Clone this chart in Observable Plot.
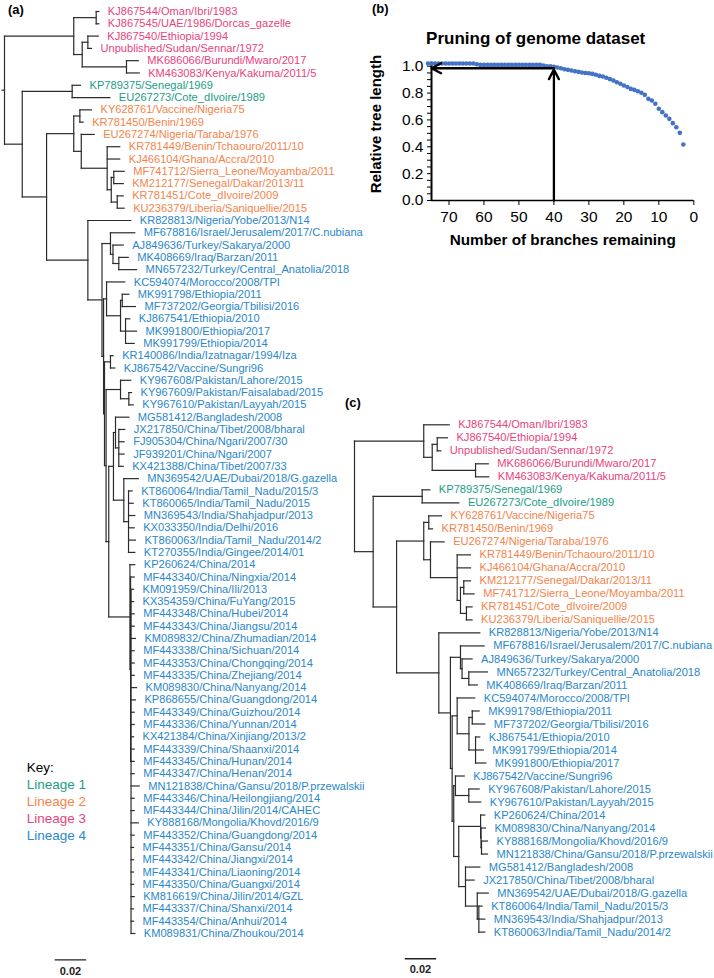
<!DOCTYPE html>
<html><head><meta charset="utf-8">
<script src="https://cdn.jsdelivr.net/npm/d3@7"></script>
<script src="https://cdn.jsdelivr.net/npm/@observablehq/plot@0.6"></script>
<style>
body{margin:0;background:#fff;}
#fig{position:relative;width:714px;height:978px;background:#fff;font-family:"Liberation Sans",Arial,sans-serif;overflow:hidden;}
#fig svg{position:absolute;left:0;top:0;}
.lab{position:absolute;white-space:nowrap;line-height:1;color:#000;}
</style></head><body><div id="fig"></div>
<script>
// ---------- shared ----------
const lineageNames = ["Lineage 1","Lineage 2","Lineage 3","Lineage 4"];
const lineageColors = ["#1a9e86","#f4844a","#e8437e","#2a87c9"];
const scaleBarLabel = "0.02";
const scaleBarLength = 20;           // 0.02 substitutions/site (depth units are 0.001)

// ---------- tree (a): full genome dataset ----------
const tipNamesA = [
"KJ867544/Oman/Ibri/1983","KJ867545/UAE/1986/Dorcas_gazelle","KJ867540/Ethiopia/1994","Unpublished/Sudan/Sennar/1972",
"MK686066/Burundi/Mwaro/2017","KM463083/Kenya/Kakuma/2011/5","KP789375/Senegal/1969","EU267273/Cote_dIvoire/1989",
"KY628761/Vaccine/Nigeria75","KR781450/Benin/1969","EU267274/Nigeria/Taraba/1976","KR781449/Benin/Tchaouro/2011/10",
"KJ466104/Ghana/Accra/2010","MF741712/Sierra_Leone/Moyamba/2011","KM212177/Senegal/Dakar/2013/11","KR781451/Cote_dIvoire/2009",
"KU236379/Liberia/Saniquellie/2015","KR828813/Nigeria/Yobe/2013/N14","MF678816/Israel/Jerusalem/2017/C.nubiana","AJ849636/Turkey/Sakarya/2000",
"MK408669/Iraq/Barzan/2011","MN657232/Turkey/Central_Anatolia/2018","KC594074/Morocco/2008/TPI","MK991798/Ethiopia/2011",
"MF737202/Georgia/Tbilisi/2016","KJ867541/Ethiopia/2010","MK991800/Ethiopia/2017","MK991799/Ethiopia/2014",
"KR140086/India/Izatnagar/1994/Iza","KJ867542/Vaccine/Sungri96","KY967608/Pakistan/Lahore/2015","KY967609/Pakistan/Faisalabad/2015",
"KY967610/Pakistan/Layyah/2015","MG581412/Bangladesh/2008","JX217850/China/Tibet/2008/bharal","FJ905304/China/Ngari/2007/30",
"JF939201/China/Ngari/2007","KX421388/China/Tibet/2007/33","MN369542/UAE/Dubai/2018/G.gazella","KT860064/India/Tamil_Nadu/2015/3",
"KT860065/India/Tamil_Nadu/2015","MN369543/India/Shahjadpur/2013","KX033350/India/Delhi/2016","KT860063/India/Tamil_Nadu/2014/2",
"KT270355/India/Gingee/2014/01","KP260624/China/2014","MF443340/China/Ningxia/2014","KM091959/China/Ili/2013",
"KX354359/China/FuYang/2015","MF443348/China/Hubei/2014","MF443343/China/Jiangsu/2014","KM089832/China/Zhumadian/2014",
"MF443338/China/Sichuan/2014","MF443353/China/Chongqing/2014","MF443335/China/Zhejiang/2014","KM089830/China/Nanyang/2014",
"KP868655/China/Guangdong/2014","MF443349/China/Guizhou/2014","MF443336/China/Yunnan/2014","KX421384/China/Xinjiang/2013/2",
"MF443339/China/Shaanxi/2014","MF443345/China/Hunan/2014","MF443347/China/Henan/2014","MN121838/China/Gansu/2018/P.przewalskii",
"MF443346/China/Heilongjiang/2014","MF443344/China/Jilin/2014/CAHEC","KY888168/Mongolia/Khovd/2016/9","MF443352/China/Guangdong/2014",
"MF443351/China/Gansu/2014","MF443342/China/Jiangxi/2014","MF443341/China/Liaoning/2014","MF443350/China/Guangxi/2014",
"KM816619/China/Jilin/2014/GZL","MF443337/China/Shanxi/2014","MF443354/China/Anhui/2014","KM089831/China/Zhoukou/2014"];
const tipLineageA = [3,3,3,3,3,3,1,1,2,2,2,2,2,2,2,2,2,
4,4,4,4,4,4,4,4,4,4,4,4,4,4,4,4,4,4,4,4,4,4,4,4,4,4,4,4,4,4,4,4,4,4,4,4,4,4,4,4,4,4,4,4,4,4,4,4,4,4,4,4,4,4,4,4,4,4,4,4];
const tipParentA = ["P1","P1","P3","P3","P4","P4","L1","L1","L2a","L2a","L2b","L2c","L2c","L2f","L2f","L2g","L2g",
"L4","T1","T2","T3","T3","G1","G3","G3","G4","G4","G4","N29","N29","PK","PKb","PKb","CT","CT2","CT2","CT2","CT2",
"IN2","IN3","IN3","IN3","IN3","IN3","IN3","C","C2",
"C3","C3","C3","C3","C3","C3","C3","C3","C3","C3","C3","C3","C3","C3","C3","C3","C3","C3","C3","C3","C3","C3","C3","C3","C3","C3","C3","C3","C3"];
// tip depth, in units of 0.001 substitutions/site
const tipDepthA = [60.1,60.1,59.7,55.4,85.2,85.8,48.4,67.1,55.4,50.1,57.1,73.4,73.4,76.2,75.6,75.6,76.2,
80.4,83.0,75.6,78.8,84.1,76.6,79.2,83.4,79.8,84.1,82.6,69.2,70.3,80.4,80.9,82.0,79.2,76.6,76.2,76.2,75.6,
85.2,81.3,82.0,83.0,82.6,83.4,83.0,83.0,82.6,
82.2,82.2,82.6,82.6,83.4,82.6,82.6,82.6,84.1,83.4,82.6,82.6,82.2,82.6,82.6,82.6,85.8,82.6,82.6,85.2,82.6,82.2,82.2,82.2,82.2,82.6,82.2,82.2,83.0];
const nodeIdsA    = ["R","P","P1","P2","P3","P4","Q","L1","Q2","L2","L2a","L2b","L2c","L2e","L2f","L2g","L4","L4b","T1","T2","T3","L4c","G1","G2","G3","G4","L4d","N29","L4e","PK","PKb","Y","Z","CT","CT2","IN2","IN3","C","C2","C3"];
const nodeParentA = [null,"R","P","P","P2","P2","R","Q","Q","Q2","L2","L2","L2b","L2c","L2e","L2e","Q2","L4","L4b","T1","T2","L4b","L4c","G1","G2","G2","L4c","L4d","L4d","L4e","PK","L4e","Y","Z","CT","Z","IN2","Y","C","C2"];
const nodeDepthA  = [0,44.1,58.4,49.5,53.1,77.7,11.3,43.1,26.8,44.1,48.0,48.9,65.4,68.0,69.6,71.8,53.1,62.1,67.5,69.1,72.8,63.1,65.0,73.9,75.0,77.1,63.7,67.5,64.7,73.9,79.2,66.4,69.4,70.7,72.8,76.0,79.0,79.9,80.3,80.6];

// ---------- tree (c): pruned dataset ----------
const tipNamesC = [
"KJ867544/Oman/Ibri/1983","KJ867540/Ethiopia/1994","Unpublished/Sudan/Sennar/1972","MK686066/Burundi/Mwaro/2017",
"KM463083/Kenya/Kakuma/2011/5","KP789375/Senegal/1969","EU267273/Cote_dIvoire/1989","KY628761/Vaccine/Nigeria75",
"KR781450/Benin/1969","EU267274/Nigeria/Taraba/1976","KR781449/Benin/Tchaouro/2011/10","KJ466104/Ghana/Accra/2010",
"KM212177/Senegal/Dakar/2013/11","MF741712/Sierra_Leone/Moyamba/2011","KR781451/Cote_dIvoire/2009","KU236379/Liberia/Saniquellie/2015",
"KR828813/Nigeria/Yobe/2013/N14","MF678816/Israel/Jerusalem/2017/C.nubiana","AJ849636/Turkey/Sakarya/2000","MN657232/Turkey/Central_Anatolia/2018",
"MK408669/Iraq/Barzan/2011","KC594074/Morocco/2008/TPI","MK991798/Ethiopia/2011","MF737202/Georgia/Tbilisi/2016",
"KJ867541/Ethiopia/2010","MK991799/Ethiopia/2014","MK991800/Ethiopia/2017","KJ867542/Vaccine/Sungri96",
"KY967608/Pakistan/Lahore/2015","KY967610/Pakistan/Layyah/2015","KP260624/China/2014","KM089830/China/Nanyang/2014",
"KY888168/Mongolia/Khovd/2016/9","MN121838/China/Gansu/2018/P.przewalskii","MG581412/Bangladesh/2008","JX217850/China/Tibet/2008/bharal",
"MN369542/UAE/Dubai/2018/G.gazella","KT860064/India/Tamil_Nadu/2015/3","MN369543/India/Shahjadpur/2013","KT860063/India/Tamil_Nadu/2014/2"];
const tipLineageC = [3,3,3,3,3,1,1,2,2,2,2,2,2,2,2,2,4,4,4,4,4,4,4,4,4,4,4,4,4,4,4,4,4,4,4,4,4,4,4,4];
const tipParentC = ["cP","cP3","cP3","cP4","cP4","cL1","cL1","cL2a","cL2a","cL2b","cL2c","cL2c","cL2f","cL2f","cL2g","cL2g",
"cL4","cT1","cT2","cT3","cT3","cG1","cG2a","cG2a","cG3","cG3","cG3","cN","cPK","cPK","cCN","cCN2","cCN3","cCN3","cBD","cBD","cIN","cIN2","cIN2","cIN2"];
const tipDepthC = [60.3,59.2,55.0,85.2,85.5,48.0,66.5,55.4,49.7,57.1,73.9,73.9,73.9,76.2,74.9,74.9,
79.8,82.6,74.9,84.7,78.2,76.6,79.4,83.0,79.8,82.0,83.6,69.9,79.4,80.4,83.0,83.4,84.7,84.7,79.8,76.2,85.2,81.3,83.0,83.0];
const nodeIdsC    = ["cR","cP","cP2","cP3","cP4","cQ","cL1","cQ2","cL2","cL2a","cL2b","cL2c","cL2e","cL2f","cL2g","cL4","cL4b","cT1","cT2","cT3","cL4c","cG1","cG2","cG2a","cG3","cL4d","cN","cPK","cX","cCN","cCN2","cCN3","cBD","cIN","cIN2"];
const nodeParentC = [null,"cR","cP","cP2","cP2","cR","cQ","cQ","cQ2","cL2","cL2","cL2b","cL2c","cL2e","cL2e","cQ2","cL4","cL4b","cT1","cT2","cL4b","cL4c","cG1","cG2","cG2","cL4c","cL4d","cN","cL4d","cX","cCN","cCN2","cX","cBD","cIN"];
const nodeDepthC  = [0,44.1,49.5,52.7,77.1,11.9,43.1,26.8,44.1,47.3,48.4,65.4,67.5,69.6,71.3,53.7,61.1,67.5,68.5,72.8,62.2,65.4,72.9,75.0,77.1,63.2,64.3,72.8,66.4,80.3,80.6,80.9,70.7,78.2,79.2];

// ---------- panel (b): pruning curve ----------
const branchesRemaining = [76,75,74,73,72,71,70,69,68,67,66,65,64,63,62,61,60,59,58,57,56,55,54,53,52,51,50,49,48,47,46,45,44,
43,42,41,40,39,38,37,36,35,34,33,32,31,30,29,28,27,26,25,24,23,22,21,20,19,18,17,16,15,14,13,12,11,10,9,8,7,6,5,4,3];
const relativeTreeLength = [1.02,1.02,1.02,1.02,1.02,1.02,1.02,1.02,1.02,1.02,1.02,1.02,1.02,1.02,1.015,
1.01,1.01,1.01,1.01,1.01,1.01,1.01,1.01,1.01,1.01,1.01,1.01,1.01,1.01,1.01,1.01,1.01,1.01,
1.005,1.0,1.0,0.995,0.99,0.985,0.978,0.973,0.968,0.963,0.958,0.953,0.95,0.948,0.943,0.936,0.928,0.923,0.914,0.904,0.894,0.881,
0.869,0.856,0.845,0.831,0.824,0.814,0.802,0.787,0.757,0.745,0.72,0.683,0.658,0.633,0.608,0.576,0.546,0.504,0.417];
const xTicksB = [70,60,50,40,30,20,10,0];
const xTickLabelsB = ["70","60","50","40","30","20","10","0"];
const yTicksB = [0,0.2,0.4,0.6,0.8,1.0];
const yTickLabelsB = ["0.0","0.2","0.4","0.6","0.8","1.0"];
const yMinorTicksB = [0.05,0.1,0.15,0.25,0.3,0.35,0.45,0.5,0.55,0.65,0.7,0.75,0.85,0.9,0.95];
const arrowFromX = [40, 40], arrowFromY = [0, 0.985];
const arrowToX   = [40, 75], arrowToY   = [0.975, 0.985];

// ---------- helpers ----------
const FONT = "Liberation Sans, Arial, sans-serif";
const fig = document.getElementById("fig");

function buildTree(names, lin, tipPar, tipDep, nodeIds, nodePar, nodeDep) {
  const nodes = new Map();
  nodeIds.forEach((id, i) => nodes.set(id, {id, parent: nodePar[i], depth: nodeDep[i], children: []}));
  const tips = names.map((name, i) => ({name, lineage: lin[i], parent: tipPar[i], depth: tipDep[i], y: i, children: []}));
  tips.forEach(t => nodes.get(t.parent).children.push(t));
  nodeIds.forEach((id, i) => { if (nodePar[i] != null) nodes.get(nodePar[i]).children.push(nodes.get(id)); });
  const yOf = n => {
    if (n.y === undefined) { const ys = n.children.map(yOf); n.y = (d3.min(ys) + d3.max(ys)) / 2; }
    return n.y;
  };
  const root = nodes.get(nodeIds[nodePar.indexOf(null)]);
  yOf(root);
  const segs = [];
  for (const n of [...tips, ...nodes.values()]) {
    if (n.parent != null) { const p = nodes.get(n.parent); segs.push({x1: p.depth, x2: n.depth, y1: n.y, y2: n.y}); }
    if (n.children.length) { const ys = n.children.map(c => c.y); segs.push({x1: n.depth, x2: n.depth, y1: d3.min(ys), y2: d3.max(ys)}); }
  }
  return {tips, segs, root};
}

function treePlot(tree, xRange, yDomain, yRange, barRow, barLabelRow, rootStub) {
  const segs = tree.segs.slice();
  if (rootStub) segs.push({x1: -rootStub, x2: 0, y1: tree.root.y, y2: tree.root.y});
  const bar = [{x1: 32, x2: 32 + scaleBarLength, y: barRow, ly: barLabelRow, label: scaleBarLabel}];
  return Plot.plot({
    width: 714, height: 978, margin: 0,
    style: {background: "transparent", overflow: "visible", fontFamily: FONT},
    x: {domain: [0, 100], range: xRange, axis: null},
    y: {domain: yDomain, range: yRange, axis: null},
    color: {type: "ordinal", domain: [1, 2, 3, 4], range: lineageColors},
    marks: [
      Plot.link(segs, {x1: "x1", y1: "y1", x2: "x2", y2: "y2", stroke: "#2b2b2b", strokeWidth: 1.2, strokeLinecap: "square"}),
      Plot.text(tree.tips, {x: "depth", y: "y", text: "name", dx: 9, textAnchor: "start", fill: "lineage", fontSize: 11.1, fontFamily: FONT}),
      Plot.link(bar, {x1: "x1", x2: "x2", y1: "y", y2: "y", stroke: "#222", strokeWidth: 1.3}),
      Plot.text(bar, {x: d => (d.x1 + d.x2) / 2, y: "ly", text: "label", fontWeight: "bold", fontSize: 11, fontFamily: FONT, fill: "#222"})
    ]
  });
}

function addLabel(text, x, y, css, anchor) {
  const d = document.createElement("div");
  d.className = "lab";
  d.textContent = text;
  d.style.left = x + "px"; d.style.top = y + "px";
  d.style.transform = anchor === "center" ? "translate(-50%,-50%)" : (anchor === "rot" ? "translate(-50%,-50%) rotate(-90deg)" : "translate(0,-50%)");
  Object.assign(d.style, css || {});
  fig.appendChild(d);
}

// ---------- draw trees ----------
const treeA = buildTree(tipNamesA, tipLineageA, tipParentA, tipDepthA, nodeIdsA, nodeParentA, nodeDepthA);
fig.appendChild(treePlot(treeA, [4, 161], [0, 75], [11, 933], 77.15, 78.05, 1.5));

const treeC = buildTree(tipNamesC, tipLineageC, tipParentC, tipDepthC, nodeIdsC, nodeParentC, nodeDepthC);
fig.appendChild(treePlot(treeC, [354, 511], [0, 39], [424.3, 931.6], 41.05, 41.87, 0));

// ---------- panel (b) ----------
const prune = branchesRemaining.map((n, i) => ({n, v: relativeTreeLength[i]}));
const arrows = arrowFromX.map((x, i) => ({x1: x, y1: arrowFromY[i], x2: arrowToX[i], y2: arrowToY[i]}));
const pb = Plot.plot({
  width: 354, height: 250,
  marginLeft: 71, marginRight: 20.7, marginTop: 61.7, marginBottom: 50,
  style: {background: "transparent", overflow: "visible", fontFamily: FONT, fontSize: "15.5px", color: "#000"},
  x: {domain: [75, 0]},
  y: {domain: [0, 1.03]},
  marks: [
    Plot.axisY({ticks: yMinorTicksB, tickSize: 4, tickFormat: () => "", label: null}),
    Plot.axisY({ticks: yTicksB, tickSize: 4, tickPadding: 4, fontSize: 15.5, tickFormat: d => yTickLabelsB[yTicksB.indexOf(d)], label: null}),
    Plot.axisX({ticks: xTicksB, tickSize: 5, tickPadding: 5, fontSize: 15.5, tickFormat: d => xTickLabelsB[xTicksB.indexOf(d)], label: null}),
    Plot.ruleY([0], {stroke: "#000", strokeWidth: 1.4}),
    Plot.ruleX([75], {stroke: "#000", strokeWidth: 2}),
    Plot.dot(prune, {x: "n", y: "v", r: 2.3, fill: "#4472c4", stroke: null}),
    Plot.arrow(arrows, {x1: "x1", y1: "y1", x2: "x2", y2: "y2", stroke: "#000", strokeWidth: 2.3, headLength: 7, headAngle: 55})
  ]
});
pb.style.left = "360px"; pb.style.top = "0px";
fig.appendChild(pb);

// ---------- text ----------
addLabel("(a)", 8, 9, {fontWeight: "bold", fontSize: "13px"});
addLabel("(b)", 372, 8, {fontWeight: "bold", fontSize: "13px"});
addLabel("(c)", 345, 402, {fontWeight: "bold", fontSize: "13px"});
addLabel("Pruning of genome dataset", 535.7, 38, {fontWeight: "bold", fontSize: "17px"}, "center");
addLabel("Number of branches remaining", 562.7, 240, {fontWeight: "bold", fontSize: "15.3px"}, "center");
addLabel("Relative tree length", 375, 124, {fontWeight: "bold", fontSize: "15px"}, "rot");
addLabel("Key:", 26.7, 768, {fontSize: "13.5px"});
lineageNames.forEach((name, i) => addLabel(name, 26.7, 784.5 + i * 17, {fontSize: "13.5px", color: lineageColors[i]}));
</script></body></html>
